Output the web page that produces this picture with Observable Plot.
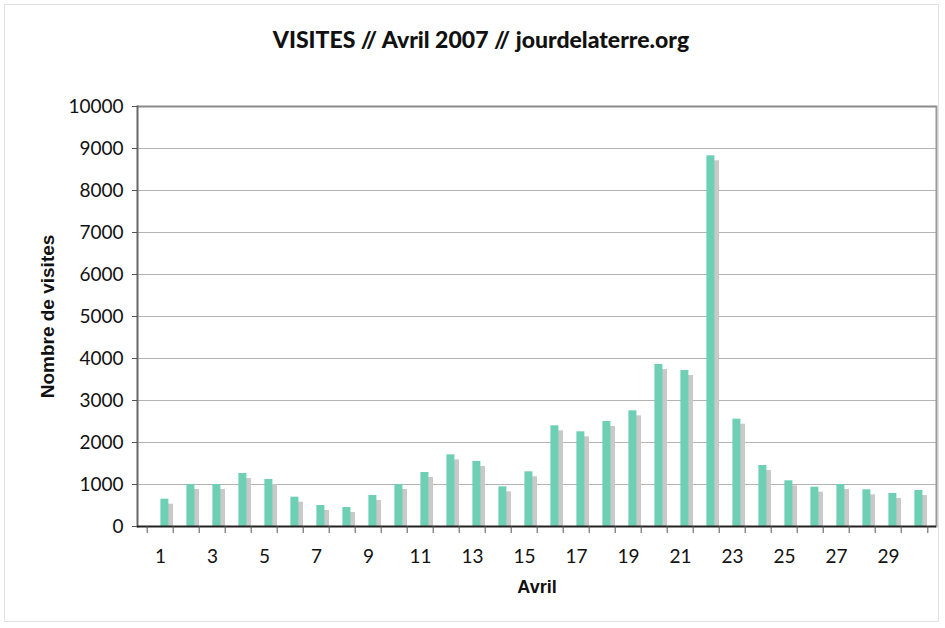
<!DOCTYPE html>
<html>
<head>
<meta charset="utf-8">
<script src="https://cdn.jsdelivr.net/npm/d3@7"></script>
<script src="https://cdn.jsdelivr.net/npm/@observablehq/plot@0.6"></script>
<style>
  body { margin: 0; background: #fff; }
  #wrap { position: relative; width: 945px; height: 628px; overflow: hidden; }
  #border { position: absolute; left: 4px; top: 4px; width: 935px; height: 618px; border: 1px solid #e2e2e2; box-sizing: border-box; }
  #title { position: absolute; left: 0; top: 24px; width: 945px; padding-left: 17px; box-sizing: border-box; text-align: center;
    font-family: Lato, sans-serif; font-weight: 900; font-size: 23px; color: #111; line-height: 30px; }
  #chart { position: absolute; left: 0; top: 0; }
</style>
</head>
<body>
<div id="wrap">
  <div id="border"></div>
  <div id="chart"></div>
  <div id="title">VISITES // Avril 2007 // jourdelaterre.org</div>
</div>
<script>
const days = d3.range(1, 31);
const visites = [650, 1000, 1000, 1262, 1119, 698, 500, 452, 738, 1000,
                 1286, 1706, 1548, 945, 1302, 2397, 2254, 2500, 2754, 3857,
                 3714, 8826, 2555, 1452, 1088, 936, 1000, 873, 786, 857];
const yTicks = d3.range(0, 10001, 1000);
const xLabels = days.filter(d => d % 2 === 1);
const data = days.map((d, i) => ({day: d, v: visites[i]}));

const W = 945, H = 628, mL = 137, mR = 9, mT = 106, mB = 102;
const step = (W - mL - mR) / days.length;

const chart = Plot.plot({
  width: W, height: H,
  marginLeft: mL, marginRight: mR, marginTop: mT, marginBottom: mB,
  style: {fontFamily: "Lato, sans-serif", fontSize: "18px", color: "#111", background: "transparent"},
  x: {type: "band", domain: days, paddingInner: 0.71, paddingOuter: 0.355},
  y: {domain: [0, 10000]},
  marks: [
    Plot.gridY(yTicks, {stroke: "#b4b4b4", strokeOpacity: 1, strokeWidth: 1}),
    Plot.ruleY([10000], {stroke: "#8a8a8a", strokeWidth: 2}),
    Plot.barY(data, {x: "day", y: "v", fill: "#c9c9c9", dx: 9, insetTop: 5}),
    Plot.barY(data, {x: "day", y: "v", fill: "#6dcfb3", dx: 4.4}),
    Plot.frame({anchor: "left", stroke: "#666", strokeWidth: 2}),
    Plot.frame({anchor: "right", stroke: "#999", strokeWidth: 2}),
    Plot.ruleY([0], {stroke: "#222", strokeWidth: 2}),
    Plot.axisY(yTicks, {tickSize: 5, tickPadding: 9, tickFormat: d => String(d), stroke: "#555", label: null, fontSize: 19}),
    Plot.axisX(days, {tickSize: 7, text: null, dx: -step / 2, stroke: "#555", label: null}),
    Plot.axisX([30], {tickSize: 7, text: null, dx: step / 2, stroke: "#555", label: null}),
    Plot.axisX(xLabels, {tickSize: 0, tickPadding: 23, label: null, fontSize: 19}),
    Plot.text(["Nombre de visites"], {frameAnchor: "left", textAnchor: "middle", rotate: -90, dx: -90, fontWeight: "bold", fontSize: 19, fontFamily: "Liberation Sans, Arial, sans-serif", fill: "#111"}),
    Plot.text(["Avril"], {frameAnchor: "bottom", textAnchor: "middle", dy: 66, fontWeight: "bold", fontSize: 18, fontFamily: "Liberation Sans, Arial, sans-serif", fill: "#111"})
  ]
});
document.getElementById("chart").appendChild(chart);
</script>
</body>
</html>
